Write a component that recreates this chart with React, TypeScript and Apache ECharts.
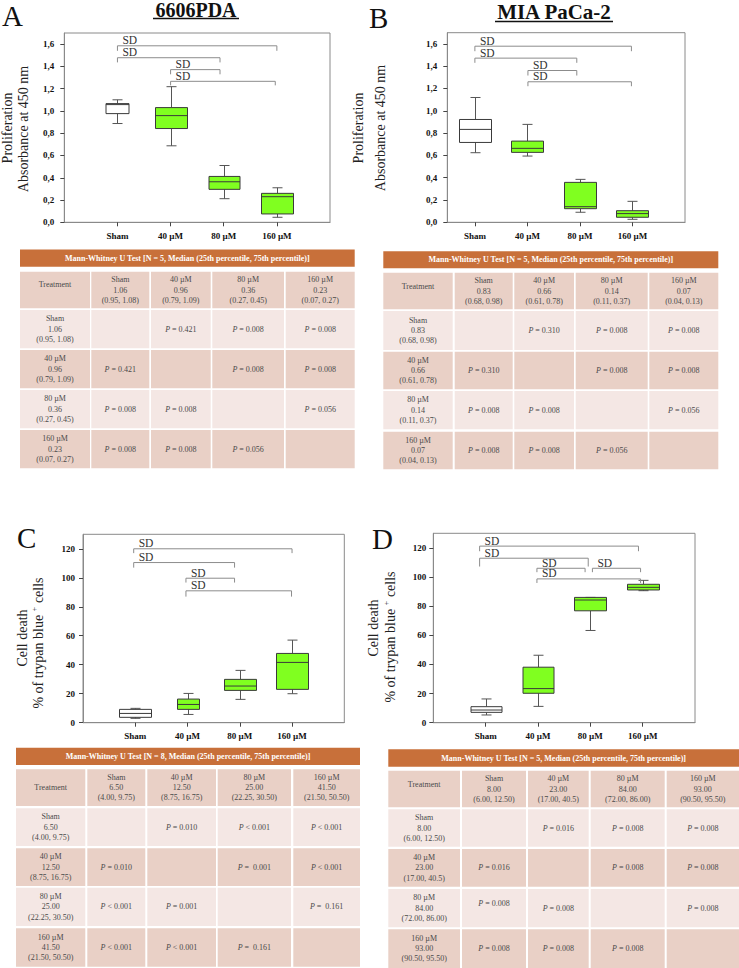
import React, { useEffect, useRef } from 'react';
import * as echarts from 'echarts';

const SERIF = '"Liberation Serif", "Times New Roman", serif';
const GREEN = '#80ff20';
const BOX_STROKE = '#3a3a3a';
const WHISKER = '#555555';
const FRAME = '#8a8a8a';
const BRACKET = '#8c8c8c';
const CELL_DARK = '#e9d0c6';
const CELL_LIGHT = '#f4e7e4';
const HEADER_ORANGE = '#c8703a';
const CELL_TEXT = '#4a4a4a';

// ---------- data ----------
const categories = ['Sham', '40 µM', '80 µM', '160 µM'];
const categoryPos = [1, 2, 3, 4];
const yTicksAB = [0, 0.2, 0.4, 0.6, 0.8, 1.0, 1.2, 1.4, 1.6];
const yTicksCD = [0, 20, 40, 60, 80, 100, 120];

// box stats: [low whisker, q1, median, q3, high whisker]
const boxA = [
  [0.887, 0.976, 1.057, 1.066, 1.10],
  [0.687, 0.842, 0.958, 1.03, 1.218],
  [0.212, 0.296, 0.364, 0.412, 0.51],
  [0.045, 0.075, 0.23, 0.26, 0.31],
];
const boxB = [
  [0.624, 0.716, 0.833, 0.922, 1.119],
  [0.594, 0.627, 0.663, 0.728, 0.878],
  [0.09, 0.122, 0.14, 0.358, 0.385],
  [0.027, 0.045, 0.078, 0.104, 0.188],
];
const boxC = [
  [3.0, 3.7, 6.4, 9.2, 9.9],
  [5.7, 9.2, 12.6, 16.3, 20.2],
  [16.1, 22.3, 25.3, 29.9, 36.1],
  [20.0, 23.0, 41.6, 47.8, 57.0],
];
const boxD = [
  [5.3, 7.1, 8.7, 11.0, 16.3],
  [11.2, 20.2, 23.4, 38.1, 46.3],
  [63.3, 76.8, 84.2, 86.0, 86.0],
  [90.6, 91.1, 92.9, 95.0, 97.7],
];

// significance brackets: [from, to, line level, leg end level]
const bracketsA = [
  [1, 4, 1.585, 1.54],
  [1, 2.93, 1.478, 1.436],
  [2, 2.93, 1.371, 1.329],
  [2, 3.97, 1.266, 1.23],
];
const bracketsB = [
  [1, 3.98, 1.579, 1.534],
  [1, 2.94, 1.472, 1.43],
  [2.01, 2.94, 1.361, 1.316],
  [2.01, 3.98, 1.26, 1.22],
];
const bracketsC = [
  [0.97, 4, 120, 117],
  [0.97, 2.9, 110.5, 107],
  [1.97, 2.9, 99.7, 96.7],
  [1.97, 3.99, 91, 87],
];
const bracketsD = [
  [0.885, 3.92, 121.2, 117.7],
  [0.885, 2.96, 112.9, 107.2],
  [1.98, 2.9, 106, 103.3],
  [3.04, 3.96, 106, 103.3],
  [1.98, 3.96, 98.7, 95.9],
];

// tables
const tableHeaderA = 'Mann-Whitney U Test [N = 5, Median (25th percentile, 75th percentile)]';
const tableHeaderB = 'Mann-Whitney U Test [N = 5, Median (25th percentile, 75th percentile)]';
const tableHeaderC = 'Mann-Whitney U Test [N = 8, Median (25th percentile, 75th percentile)]';
const tableHeaderD = 'Mann-Whitney U Test [N = 5, Median (25th percentile, 75th percentile)]';

const groupsA = [
  ['Sham', '1.06', '(0.95, 1.08)'],
  ['40 µM', '0.96', '(0.79, 1.09)'],
  ['80 µM', '0.36', '(0.27, 0.45)'],
  ['160 µM', '0.23', '(0.07, 0.27)'],
];
const groupsB = [
  ['Sham', '0.83', '(0.68, 0.98)'],
  ['40 µM', '0.66', '(0.61, 0.78)'],
  ['80 µM', '0.14', '(0.11, 0.37)'],
  ['160 µM', '0.07', '(0.04, 0.13)'],
];
const groupsC = [
  ['Sham', '6.50', '(4.00, 9.75)'],
  ['40 µM', '12.50', '(8.75, 16.75)'],
  ['80 µM', '25.00', '(22.25, 30.50)'],
  ['160 µM', '41.50', '(21.50, 50.50)'],
];
const groupsD = [
  ['Sham', '8.00', '(6.00, 12.50)'],
  ['40 µM', '23.00', '(17.00, 40.5)'],
  ['80 µM', '84.00', '(72.00, 86.00)'],
  ['160 µM', '93.00', '(90.50, 95.50)'],
];

const pA = [
  ['', '= 0.421', '= 0.008', '= 0.008'],
  ['= 0.421', '', '= 0.008', '= 0.008'],
  ['= 0.008', '= 0.008', '', '= 0.056'],
  ['= 0.008', '= 0.008', '= 0.056', ''],
];
const pB = [
  ['', '= 0.310', '= 0.008', '= 0.008'],
  ['= 0.310', '', '= 0.008', '= 0.008'],
  ['= 0.008', '= 0.008', '', '= 0.056'],
  ['= 0.008', '= 0.008', '= 0.056', ''],
];
const pC = [
  ['', '= 0.010', '< 0.001', '< 0.001'],
  ['= 0.010', '', '=  0.001', '< 0.001'],
  ['< 0.001', '= 0.001', '', '=  0.161'],
  ['< 0.001', '< 0.001', '=  0.161', ''],
];
const pD = [
  ['', '= 0.016', '= 0.008', '= 0.008'],
  ['= 0.016', '', '= 0.008', '= 0.008'],
  ['= 0.008', '= 0.008', '', '= 0.008'],
  ['= 0.008', '= 0.008', '= 0.008', ''],
];

// ---------- layout ----------
const panelLayouts = [
  { grid: { left: 64.3, top: 33, width: 265.7, height: 189.3 }, xMin: 0, xMax: 5, yMax: 1.7, ticks: yTicksAB, comma: true, margin: 10, widths: [23, 32, 31, 32], boxes: boxA, brackets: bracketsA },
  { grid: { left: 447.3, top: 32.7, width: 237.7, height: 189.6 }, xMin: 0.475, xMax: 5, yMax: 1.7, ticks: yTicksAB, comma: true, margin: 10, widths: [32, 32, 32, 32], boxes: boxB, brackets: bracketsB },
  { grid: { left: 83, top: 534.3, width: 261.3, height: 188.4 }, xMin: 0, xMax: 5, yMax: 130, ticks: yTicksCD, comma: false, margin: 8, widths: [32, 22, 32, 32], boxes: boxC, brackets: bracketsC },
  { grid: { left: 433.3, top: 533.3, width: 261.7, height: 189.4 }, xMin: 0, xMax: 5, yMax: 130, ticks: yTicksCD, comma: false, margin: 7, widths: [31, 31, 32, 32], boxes: boxD, brackets: bracketsD },
];

const tableLayouts = [
  {
    header: tableHeaderA, groups: groupsA, p: pA,
    hx: [20, 354.7], hy: [249.5, 266.7],
    cols: [[20, 90], [91.3, 149.3], [151, 210.7], [212.3, 284], [285.7, 354.7]],
    rows: [[271.7, 308.3], [310, 348.3], [350, 388.3], [390, 428.3], [430, 468.3]],
    treatDy: -6, tweaks: [] as number[][],
  },
  {
    header: tableHeaderB, groups: groupsB, p: pB,
    hx: [383.3, 718.3], hy: [251.2, 268.3],
    cols: [[383.3, 452.7], [454.7, 512.7], [514.3, 574], [575.7, 647.7], [649.3, 718.3]],
    rows: [[272.7, 309.3], [311, 350], [351.7, 389.3], [391, 429.3], [431.7, 469.3]],
    treatDy: -5, tweaks: [] as number[][],
  },
  {
    header: tableHeaderC, groups: groupsC, p: pC,
    hx: [16, 360], hy: [747.7, 765],
    cols: [[16, 85.3], [87.3, 145.3], [147.3, 216], [217.7, 291], [293.3, 360]],
    rows: [[769.3, 806], [808.3, 846], [848.3, 886], [887.7, 926], [928.3, 966.7]],
    treatDy: 0, tweaks: [] as number[][],
  },
  {
    header: tableHeaderD, groups: groupsD, p: pD,
    hx: [388.3, 739], hy: [749.3, 766.7],
    cols: [[388.3, 460], [462, 526], [528, 588.7], [590.7, 664.7], [666.7, 739]],
    rows: [[770.7, 807.3], [809.3, 846.7], [849, 886.7], [889, 927.3], [929.3, 968]],
    treatDy: -5, tweaks: [[3, 1, -5]],
  },
];

// ---------- renderers ----------
function renderBox(params: any, api: any) {
  const x = api.value(0);
  const lo = api.coord([x, api.value(1)]);
  const q1 = api.coord([x, api.value(2)]);
  const md = api.coord([x, api.value(3)]);
  const q3 = api.coord([x, api.value(4)]);
  const hi = api.coord([x, api.value(5)]);
  const w = api.value(6);
  const sham = api.value(7) === 1;
  const cx = Math.round(lo[0]) + 0.5;
  const h = w / 2;
  const cap = 5;
  const ln = (x1: number, y1: number, x2: number, y2: number, stroke: string) => ({
    type: 'line',
    shape: { x1, y1, x2, y2 },
    style: { stroke, lineWidth: 1 },
  });
  return {
    type: 'group',
    children: [
      ln(cx, hi[1], cx, q3[1], WHISKER),
      ln(cx, q1[1], cx, lo[1], WHISKER),
      ln(cx - cap, hi[1], cx + cap, hi[1], WHISKER),
      ln(cx - cap, lo[1], cx + cap, lo[1], WHISKER),
      {
        type: 'rect',
        shape: { x: cx - h, y: q3[1], width: w, height: q1[1] - q3[1] },
        style: { fill: sham ? '#ffffff' : GREEN, stroke: BOX_STROKE, lineWidth: 1 },
      },
      ln(cx - h, md[1], cx + h, md[1], BOX_STROKE),
    ],
  };
}

function renderBracket(params: any, api: any) {
  const a = api.coord([api.value(0), api.value(3)]);
  const b = api.coord([api.value(0), api.value(2)]);
  const c = api.coord([api.value(1), api.value(2)]);
  const d = api.coord([api.value(1), api.value(3)]);
  return {
    type: 'group',
    children: [
      {
        type: 'polyline',
        shape: { points: [a, b, c, d] },
        style: { stroke: BRACKET, lineWidth: 1, fill: 'none' },
      },
      {
        type: 'text',
        x: b[0] + 5,
        y: b[1] + 0.5,
        style: {
          text: 'SD',
          fill: '#333333',
          fontSize: 11.5,
          fontFamily: SERIF,
          textAlign: 'left',
          textVerticalAlign: 'bottom',
          align: 'left',
          verticalAlign: 'bottom',
        },
      },
    ],
  };
}

function txt(x: number, y: number, text: string, extra: any = {}, rotation = 0) {
  return {
    type: 'text',
    x,
    y,
    rotation,
    silent: true,
    style: {
      text,
      fill: '#222222',
      fontSize: 14,
      fontFamily: SERIF,
      textAlign: 'center',
      textVerticalAlign: 'middle',
      align: 'center',
      verticalAlign: 'middle',
      ...extra,
    },
  };
}

function tableElements(t: any) {
  const els: any[] = [];
  els.push({
    type: 'rect',
    silent: true,
    shape: { x: t.hx[0], y: t.hy[0], width: t.hx[1] - t.hx[0], height: t.hy[1] - t.hy[0] },
    style: { fill: HEADER_ORANGE },
  });
  els.push(txt((t.hx[0] + t.hx[1]) / 2, (t.hy[0] + t.hy[1]) / 2, t.header, { fill: '#ffffff', fontSize: 8, fontWeight: 'bold' }));
  for (let r = 0; r < 5; r++) {
    for (let c = 0; c < 5; c++) {
      const [x0, x1] = t.cols[c];
      const [y0, y1] = t.rows[r];
      const fill = r % 2 === 0 ? CELL_DARK : CELL_LIGHT;
      els.push({
        type: 'rect',
        silent: true,
        shape: { x: x0, y: y0, width: x1 - x0, height: y1 - y0 },
        style: { fill },
      });
      let text = '';
      let dy = 0;
      let rich: any = undefined;
      if (r === 0 && c === 0) {
        text = 'Treatment';
        dy = t.treatDy;
      } else if (r === 0) {
        text = t.groups[c - 1].join('\n');
      } else if (c === 0) {
        text = t.groups[r - 1].join('\n');
      } else {
        const p = t.p[r - 1][c - 1];
        if (p) {
          text = '{i|P} ' + p;
          rich = { i: { fontStyle: 'italic', fontSize: 8, fontFamily: SERIF, fill: CELL_TEXT } };
        }
      }
      for (const tw of t.tweaks) {
        if (tw[0] === r && tw[1] === c) dy = tw[2];
      }
      if (text) {
        const extra: any = { fill: CELL_TEXT, fontSize: 8, lineHeight: 10.3 };
        if (rich) extra.rich = rich;
        els.push(txt((x0 + x1) / 2, (y0 + y1) / 2 + dy, text, extra));
      }
    }
  }
  return els;
}

function buildOption() {
  const grids: any[] = [];
  const xAxes: any[] = [];
  const yAxes: any[] = [];
  const series: any[] = [];
  panelLayouts.forEach((p, i) => {
    grids.push({ ...p.grid, show: true, borderColor: FRAME, borderWidth: 1, backgroundColor: 'transparent', containLabel: false });
    xAxes.push({
      type: 'value',
      gridIndex: i,
      min: p.xMin,
      max: p.xMax,
      splitLine: { show: false },
      axisLine: { show: true, onZero: false, lineStyle: { color: FRAME, width: 1 } },
      axisTick: { show: true, inside: false, length: 4, customValues: categoryPos, lineStyle: { color: '#444' } },
      axisLabel: {
        show: true,
        customValues: categoryPos,
        margin: 9,
        color: '#111',
        fontSize: 9,
        fontWeight: 'bold',
        fontFamily: SERIF,
        formatter: (v: number) => {
          const k = categoryPos.indexOf(v);
          return k >= 0 ? categories[k] : '';
        },
      },
    });
    yAxes.push({
      type: 'value',
      gridIndex: i,
      min: 0,
      max: p.yMax,
      splitLine: { show: false },
      axisLine: { show: true, onZero: false, lineStyle: { color: FRAME, width: 1 } },
      axisTick: { show: true, inside: false, length: 4, customValues: p.ticks, lineStyle: { color: '#444' } },
      axisLabel: {
        show: true,
        customValues: p.ticks,
        margin: p.margin,
        color: '#111',
        fontSize: 9,
        fontWeight: 'bold',
        fontFamily: SERIF,
        formatter: (v: number) => {
          if (!p.ticks.some((t) => Math.abs(t - v) < 1e-9)) return '';
          return p.comma ? v.toFixed(1).replace('.', ',') : String(Math.round(v));
        },
      },
    });
    series.push({
      type: 'custom',
      xAxisIndex: i,
      yAxisIndex: i,
      silent: true,
      clip: false,
      z: 3,
      renderItem: renderBox,
      data: p.boxes.map((b, k) => [categoryPos[k], ...b, p.widths[k], k === 0 ? 1 : 0]),
    });
    series.push({
      type: 'custom',
      xAxisIndex: i,
      yAxisIndex: i,
      silent: true,
      clip: false,
      z: 4,
      renderItem: renderBracket,
      data: p.brackets,
    });
  });

  const graphics: any[] = [];
  // panel letters
  graphics.push(txt(2, 16, 'A', { fontSize: 29, textAlign: 'left', align: 'left', fill: '#111' }));
  graphics.push(txt(369, 18, 'B', { fontSize: 29, textAlign: 'left', align: 'left', fill: '#111' }));
  graphics.push(txt(17, 537.5, 'C', { fontSize: 29, textAlign: 'left', align: 'left', fill: '#111' }));
  graphics.push(txt(372, 538.5, 'D', { fontSize: 29, textAlign: 'left', align: 'left', fill: '#111' }));
  // titles
  graphics.push(txt(196, 10.2, '6606PDA', { fontSize: 20, fontWeight: 'bold', fill: '#111' }));
  graphics.push({ type: 'line', silent: true, shape: { x1: 153, y1: 18.5, x2: 239, y2: 18.5 }, style: { stroke: '#111', lineWidth: 1.5 } });
  graphics.push(txt(554, 12, 'MIA PaCa-2', { fontSize: 21, fontWeight: 'bold', fill: '#111' }));
  graphics.push({ type: 'line', silent: true, shape: { x1: 495, y1: 21.5, x2: 613, y2: 21.5 }, style: { stroke: '#111', lineWidth: 1.5 } });
  // y-axis titles
  const R = Math.PI / 2;
  graphics.push(txt(7.5, 128, 'Proliferation', {}, R));
  graphics.push(txt(23, 129, 'Absorbance at 450 nm', {}, R));
  graphics.push(txt(358.5, 128, 'Proliferation', {}, R));
  graphics.push(txt(380.5, 128, 'Absorbance at 450 nm', {}, R));
  const supRich = { sup: { fontSize: 8.5, fontFamily: SERIF, fill: '#222222', verticalAlign: 'top', lineHeight: 18 } };
  graphics.push(txt(22, 638, 'Cell death', {}, R));
  graphics.push(txt(38, 643, '% of trypan blue {sup|+} cells', { rich: supRich, lineHeight: 18 }, R));
  graphics.push(txt(373, 628, 'Cell death', {}, R));
  graphics.push(txt(390, 637, '% of trypan blue {sup|+} cells', { rich: supRich, lineHeight: 18 }, R));
  // tables
  tableLayouts.forEach((t) => graphics.push(...tableElements(t)));

  return {
    animation: false,
    backgroundColor: '#ffffff',
    grid: grids,
    xAxis: xAxes,
    yAxis: yAxes,
    series,
    graphic: { elements: graphics },
  };
}

export default function App() {
  const ref = useRef<HTMLDivElement>(null);
  useEffect(() => {
    const chart = echarts.init(ref.current!, null, { renderer: 'svg', width: 739, height: 968 });
    chart.setOption(buildOption() as any);
    return () => chart.dispose();
  }, []);
  return (
    <div
      ref={ref}
      style={{ position: 'absolute', left: 0, top: 0, width: 739, height: 968, background: '#fff' }}
    />
  );
}
